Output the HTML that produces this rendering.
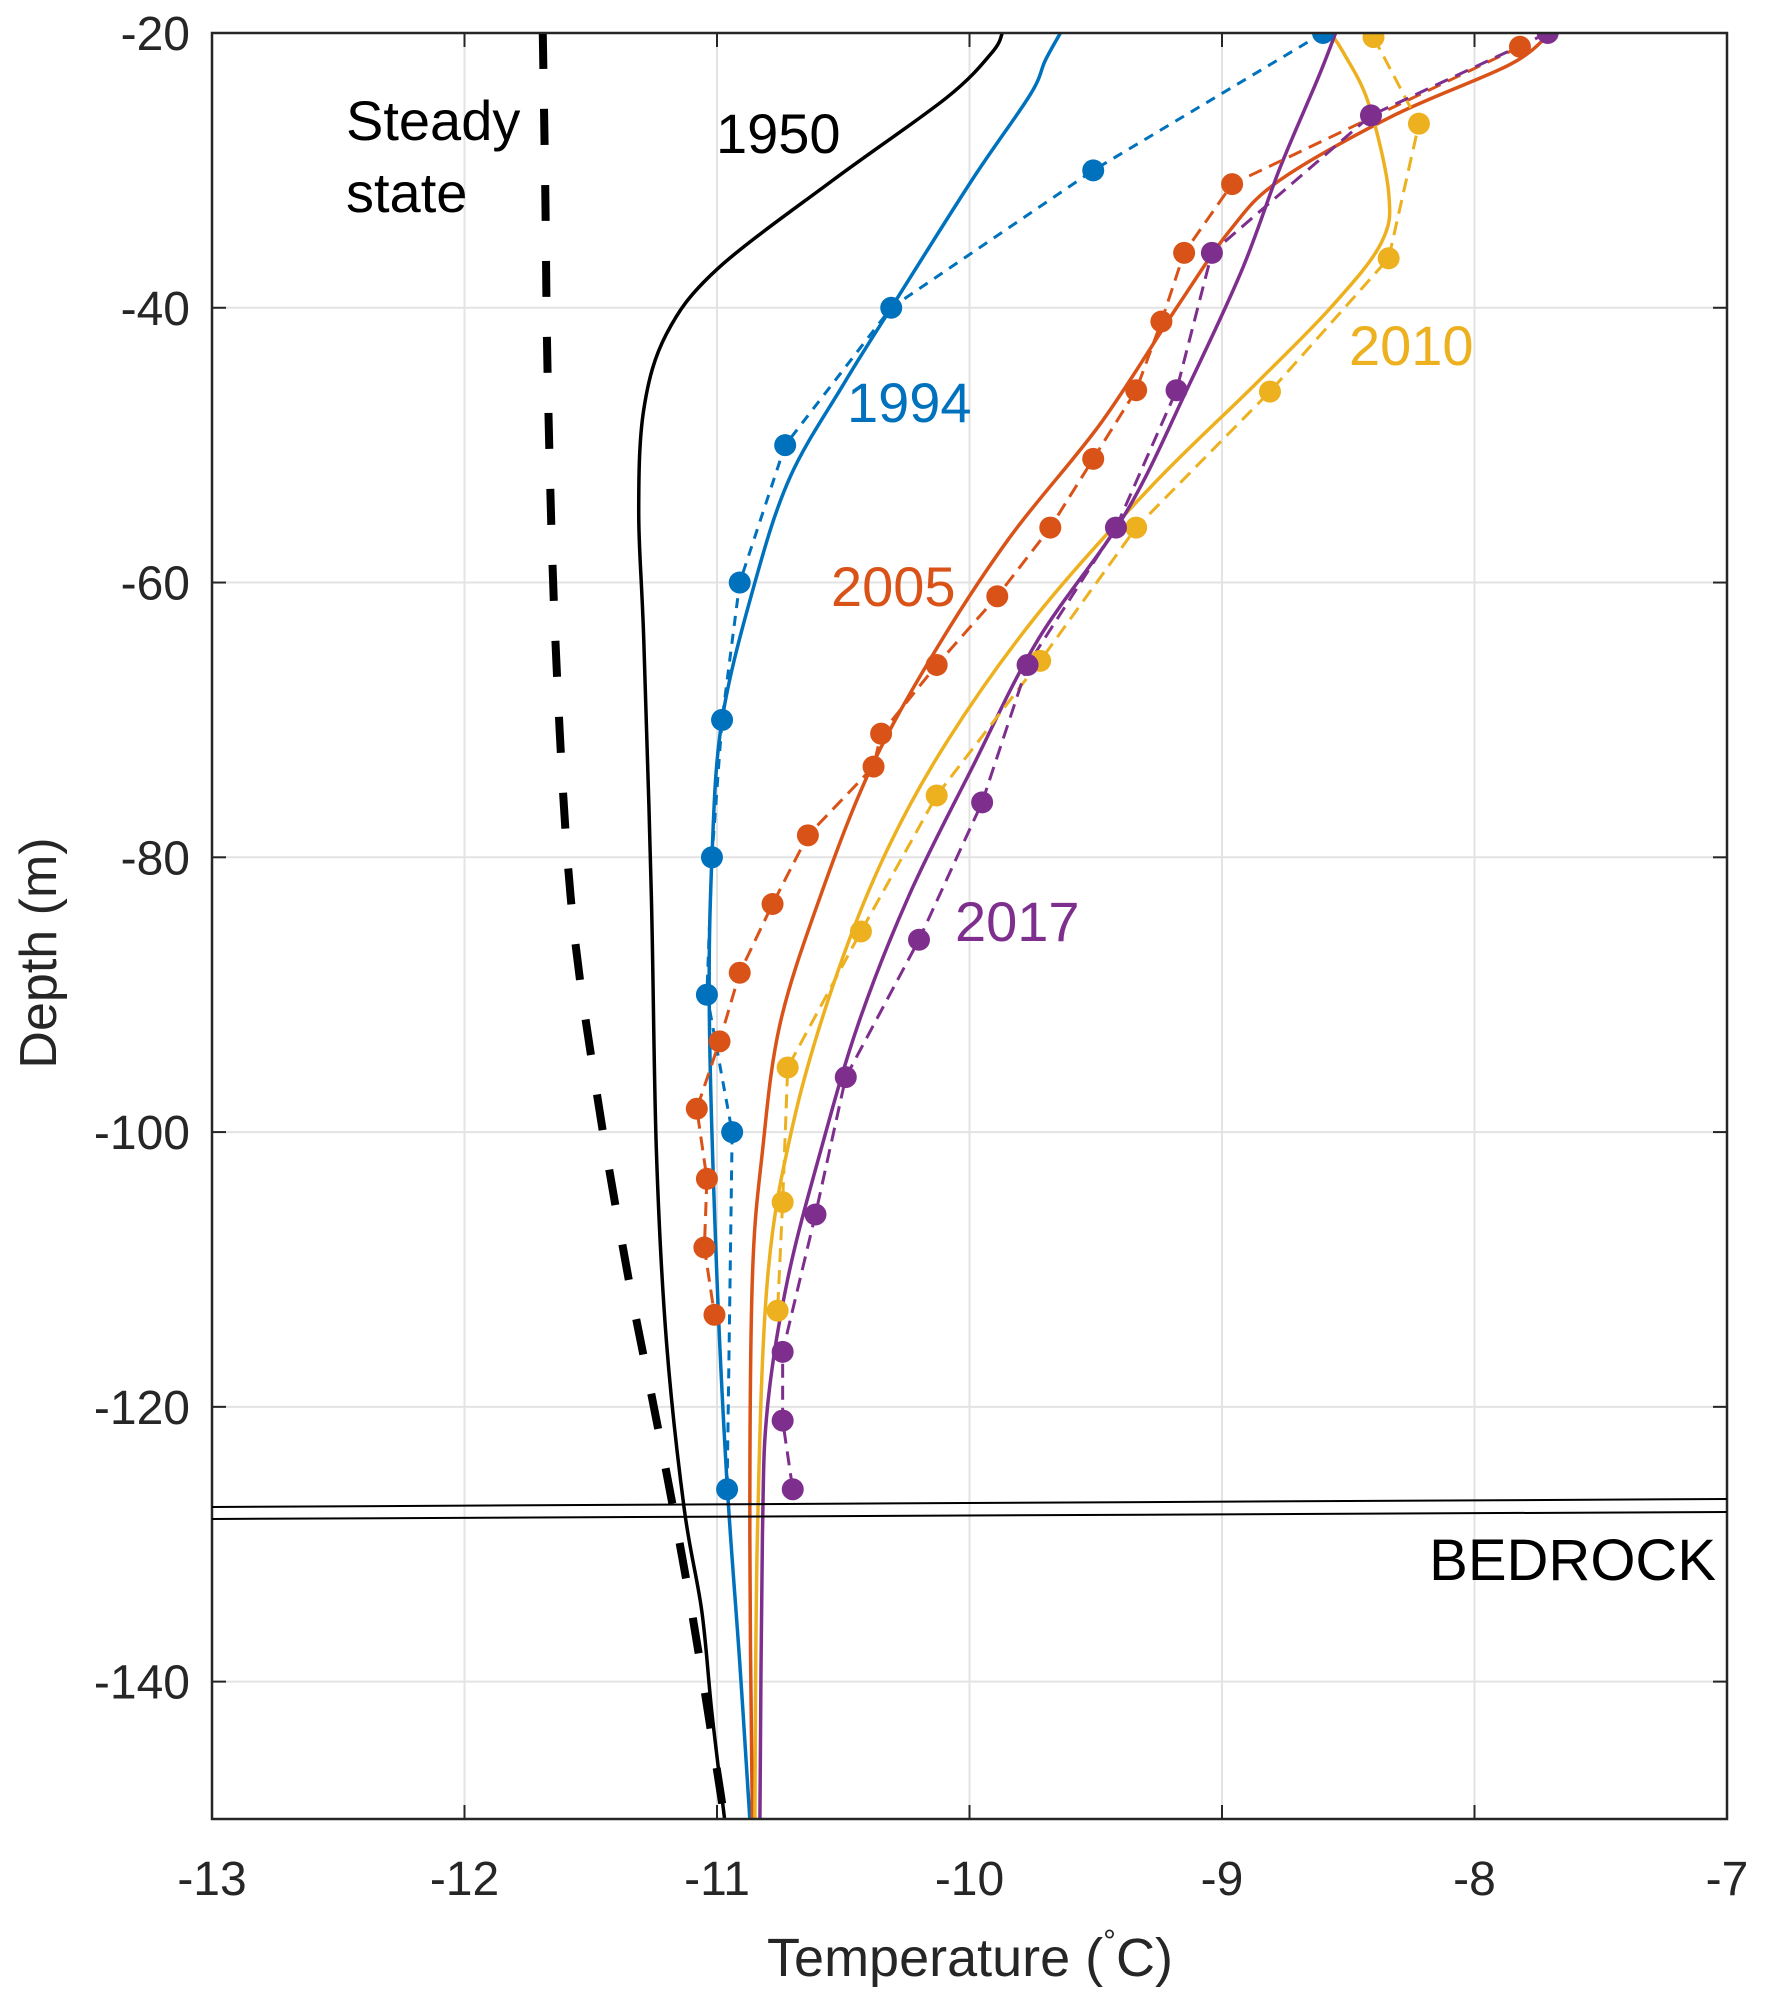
<!DOCTYPE html>
<html><head><meta charset="utf-8"><style>
html,body{margin:0;padding:0;background:#fff;}
svg{display:block;font-family:"Liberation Sans",Arial,sans-serif;}
</style></head><body>
<svg id="chart" width="1765" height="2004" viewBox="0 0 1765 2004" xmlns="http://www.w3.org/2000/svg">
<rect x="0" y="0" width="1765" height="2004" fill="#fff"/>
<g id="grid"></g>
<g id="series"></g>
<g id="axes"></g>
<g id="labels"></g>
</svg>
<script>
const xTicks=[-13,-12,-11,-10,-9,-8,-7];
const yTicks=[-20,-40,-60,-80,-100,-120,-140];
// steady state (dashed black)
const ssT=[-11.69,-11.68,-11.67,-11.64,-11.58,-11.48,-11.35,-11.23,-11.1,-10.97];
const ssD=[-20,-31.6,-45.6,-64.2,-82.8,-96.7,-110.7,-121.9,-134.9,-150];
// 1950 model
const m1950T=[-9.87,-9.91,-10.09,-10.54,-11.0,-11.2,-11.29,-11.31,-11.29,-11.26,-11.24,-11.2,-11.13,-11.06,-11.02,-10.97];
const m1950D=[-20,-21.4,-24.7,-30.7,-37.2,-41.9,-47.4,-54.9,-64.2,-82.8,-101.4,-115.3,-127.4,-134.9,-142.3,-150];
// 1994
const m1994T=[-9.64,-9.7,-9.76,-9.99,-10.31,-10.5,-10.71,-10.85,-10.98,-11.02,-11.03,-11.0,-10.96,-10.91,-10.87];
const m1994D=[-20,-22,-24.5,-30.7,-40,-45.6,-52.3,-60,-70,-80,-92,-110.7,-125.6,-138.6,-150];
const o1994T=[-8.6,-9.51,-10.31,-10.73,-10.91,-10.98,-11.02,-11.04,-10.94,-10.96];
const o1994D=[-20,-30,-40,-50,-60,-70,-80,-90,-100,-126];
// 2005
const m2005T=[-7.7,-7.86,-8.32,-8.77,-8.97,-9.18,-9.48,-9.84,-10.14,-10.39,-10.59,-10.75,-10.82,-10.86,-10.87,-10.86];
const m2005D=[-20,-22.3,-26,-30.7,-34.4,-40,-48.4,-56.7,-65.1,-73.5,-82.8,-92.1,-101.4,-110.7,-129.3,-150];
const o2005T=[-7.82,-8.96,-9.15,-9.24,-9.34,-9.51,-9.68,-9.89,-10.13,-10.35,-10.38,-10.64,-10.78,-10.91,-10.99,-11.08,-11.04,-11.05,-11.01];
const o2005D=[-21,-31,-36,-41,-46,-51,-56,-61,-66,-71,-73.4,-78.4,-83.4,-88.4,-93.4,-98.3,-103.4,-108.4,-113.3];
// 2010
const m2010T=[-8.57,-8.52,-8.42,-8.34,-8.37,-8.57,-8.87,-9.28,-9.73,-10.09,-10.34,-10.54,-10.7,-10.8,-10.84,-10.85];
const m2010D=[-20,-21.4,-25.1,-31.6,-35.3,-40,-45.6,-53,-62.3,-71.6,-80,-89.3,-99.5,-110.7,-129.3,-150];
const o2010T=[-8.4,-8.22,-8.34,-8.81,-9.34,-9.72,-10.13,-10.43,-10.72,-10.74,-10.76];
const o2010D=[-20.3,-26.6,-36.4,-46.1,-56,-65.7,-75.5,-85.4,-95.3,-105.1,-113];
// 2017
const m2017T=[-8.55,-8.62,-8.77,-8.92,-9.13,-9.38,-9.73,-9.99,-10.24,-10.44,-10.59,-10.72,-10.8,-10.82,-10.83];
const m2017D=[-20,-23.3,-29.8,-37.2,-45.6,-54.9,-64.2,-73.5,-82.8,-92.1,-101.4,-110.7,-120,-129.3,-150];
const o2017T=[-7.71,-8.41,-9.04,-9.18,-9.42,-9.77,-9.95,-10.2,-10.49,-10.61,-10.74,-10.74,-10.7];
const o2017D=[-20,-26,-36,-46,-56,-66,-76,-86,-96,-106,-116,-121,-126];

const L=212,R=1727,T=33,B=1819;
const X=t=>L+(t-(-13))/6*(R-L);
const Y=d=>T+(-20-d)/130*(B-T);
const NS='http://www.w3.org/2000/svg';
function mk(tag,attrs,parent){const e=document.createElementNS(NS,tag);for(const k in attrs)e.setAttribute(k,attrs[k]);parent.appendChild(e);return e;}
const grid=document.getElementById('grid'),series=document.getElementById('series'),axes=document.getElementById('axes'),labels=document.getElementById('labels');

xTicks.forEach(t=>{
  const g=mk('line',{x1:X(t),x2:X(t),y1:T,y2:B,stroke:'#e3e3e3','stroke-width':2},grid);
  
  
  const a=mk('line',{x1:X(t),x2:X(t),y1:B,y2:B-14,stroke:'#262626','stroke-width':2},axes);
  
  
  const b=mk('line',{x1:X(t),x2:X(t),y1:T,y2:T+14,stroke:'#262626','stroke-width':2},axes);
  
  
  const tx=mk('text',{x:X(t),y:1895,'text-anchor':'middle','font-size':48,fill:'#262626'},labels);
  tx.textContent=String(t);
  
  
});
yTicks.forEach(d=>{
  const g=mk('line',{x1:L,x2:R,y1:Y(d),y2:Y(d),stroke:'#e3e3e3','stroke-width':2},grid);
  
  
  const a=mk('line',{x1:L,x2:L+14,y1:Y(d),y2:Y(d),stroke:'#262626','stroke-width':2},axes);
  
  
  const b=mk('line',{x1:R,x2:R-14,y1:Y(d),y2:Y(d),stroke:'#262626','stroke-width':2},axes);
  
  
  const tx=mk('text',{x:190,y:Y(d)+17,'text-anchor':'end','font-size':48,fill:'#262626'},labels);
  tx.textContent=String(d);
  
  
});

function smooth(ts,ds){
  const p=ts.map((t,i)=>[X(t),Y(ds[i])]);
  let s='M'+p[0][0]+','+p[0][1];
  for(let i=0;i<p.length-1;i++){
    const p0=p[Math.max(0,i-1)],p1=p[i],p2=p[i+1],p3=p[Math.min(p.length-1,i+2)];
    const c1=[p1[0]+(p2[0]-p0[0])/6,p1[1]+(p2[1]-p0[1])/6];
    const c2=[p2[0]-(p3[0]-p1[0])/6,p2[1]-(p3[1]-p1[1])/6];
    s+=' C'+c1[0]+','+c1[1]+' '+c2[0]+','+c2[1]+' '+p2[0]+','+p2[1];
  }
  return s;
}
function poly(ts,ds){return ts.map((t,i)=>(i?'L':'M')+X(t)+','+Y(ds[i])).join(' ');}

const cl=mk('clipPath',{id:'clip'},document.getElementById('chart'));
mk('rect',{x:L,y:T,width:R-L,height:B-T},cl);
series.setAttribute('clip-path','url(#clip)');

function line(d,color,w,dash,name){
  const p=mk('path',{d:d,fill:'none',stroke:color,'stroke-width':w},series);
  if(dash)p.setAttribute('stroke-dasharray',dash);
  
  
}
function dots(ts,ds,color,name){
  ts.forEach((t,i)=>{
    const c=mk('circle',{cx:X(t),cy:Y(ds[i]),r:11,fill:color},series);
    
    
  });
}
const cB='#0072BD',cO='#D95319',cY='#EDB120',cP='#7E2F8E';
line(smooth(ssT,ssD),'#000',8,'36,40','steady-state-line');
line(smooth(m1950T,m1950D),'#000',3.5,null,'model-1950-line');
line(smooth(m1994T,m1994D),cB,3.5,null,'model-1994-line');
line(smooth(m2005T,m2005D),cO,3.5,null,'model-2005-line');
line(smooth(m2010T,m2010D),cY,3.5,null,'model-2010-line');
line(smooth(m2017T,m2017D),cP,3.5,null,'model-2017-line');
line(poly(o1994T,o1994D),cB,3,'10,8','obs-1994-line');
line(poly(o2005T,o2005D),cO,3,'14,8','obs-2005-line');
line(poly(o2010T,o2010D),cY,3,'14,8','obs-2010-line');
line(poly(o2017T,o2017D),cP,3,'14,8','obs-2017-line');
dots(o1994T,o1994D,cB,'obs-1994-point');
dots(o2005T,o2005D,cO,'obs-2005-point');
dots(o2010T,o2010D,cY,'obs-2010-point');
dots(o2017T,o2017D,cP,'obs-2017-point');
</script>
<svg style="position:absolute;left:0;top:0" width="1765" height="2004" viewBox="0 0 1765 2004" font-family="Liberation Sans, Arial, sans-serif">
<rect x="212" y="33" width="1515" height="1786" fill="none" stroke="#262626" stroke-width="2.5"/>
<line x1="212" y1="1507" x2="1727" y2="1499" stroke="#000" stroke-width="2"/>
<line x1="212" y1="1519" x2="1727" y2="1512" stroke="#000" stroke-width="2"/>
<text x="1716" y="1580" text-anchor="end" font-size="58">BEDROCK</text>
<text x="346" y="140" font-size="56">Steady</text>
<text x="346" y="212" font-size="56">state</text>
<text x="716" y="153" font-size="56">1950</text>
<text x="847" y="422" font-size="56" fill="#0072BD">1994</text>
<text x="831" y="606" font-size="56" fill="#D95319">2005</text>
<text x="1349" y="365" font-size="56" fill="#EDB120">2010</text>
<text x="955" y="941" font-size="56" fill="#7E2F8E">2017</text>
<text x="970" y="1976" text-anchor="middle" font-size="54" fill="#262626">Temperature (<tspan font-size="32" dy="-24">°</tspan><tspan dy="24">C)</tspan></text>
<text transform="translate(56,953) rotate(-90)" text-anchor="middle" font-size="52" fill="#262626">Depth (m)</text>
</svg>
</body></html>
